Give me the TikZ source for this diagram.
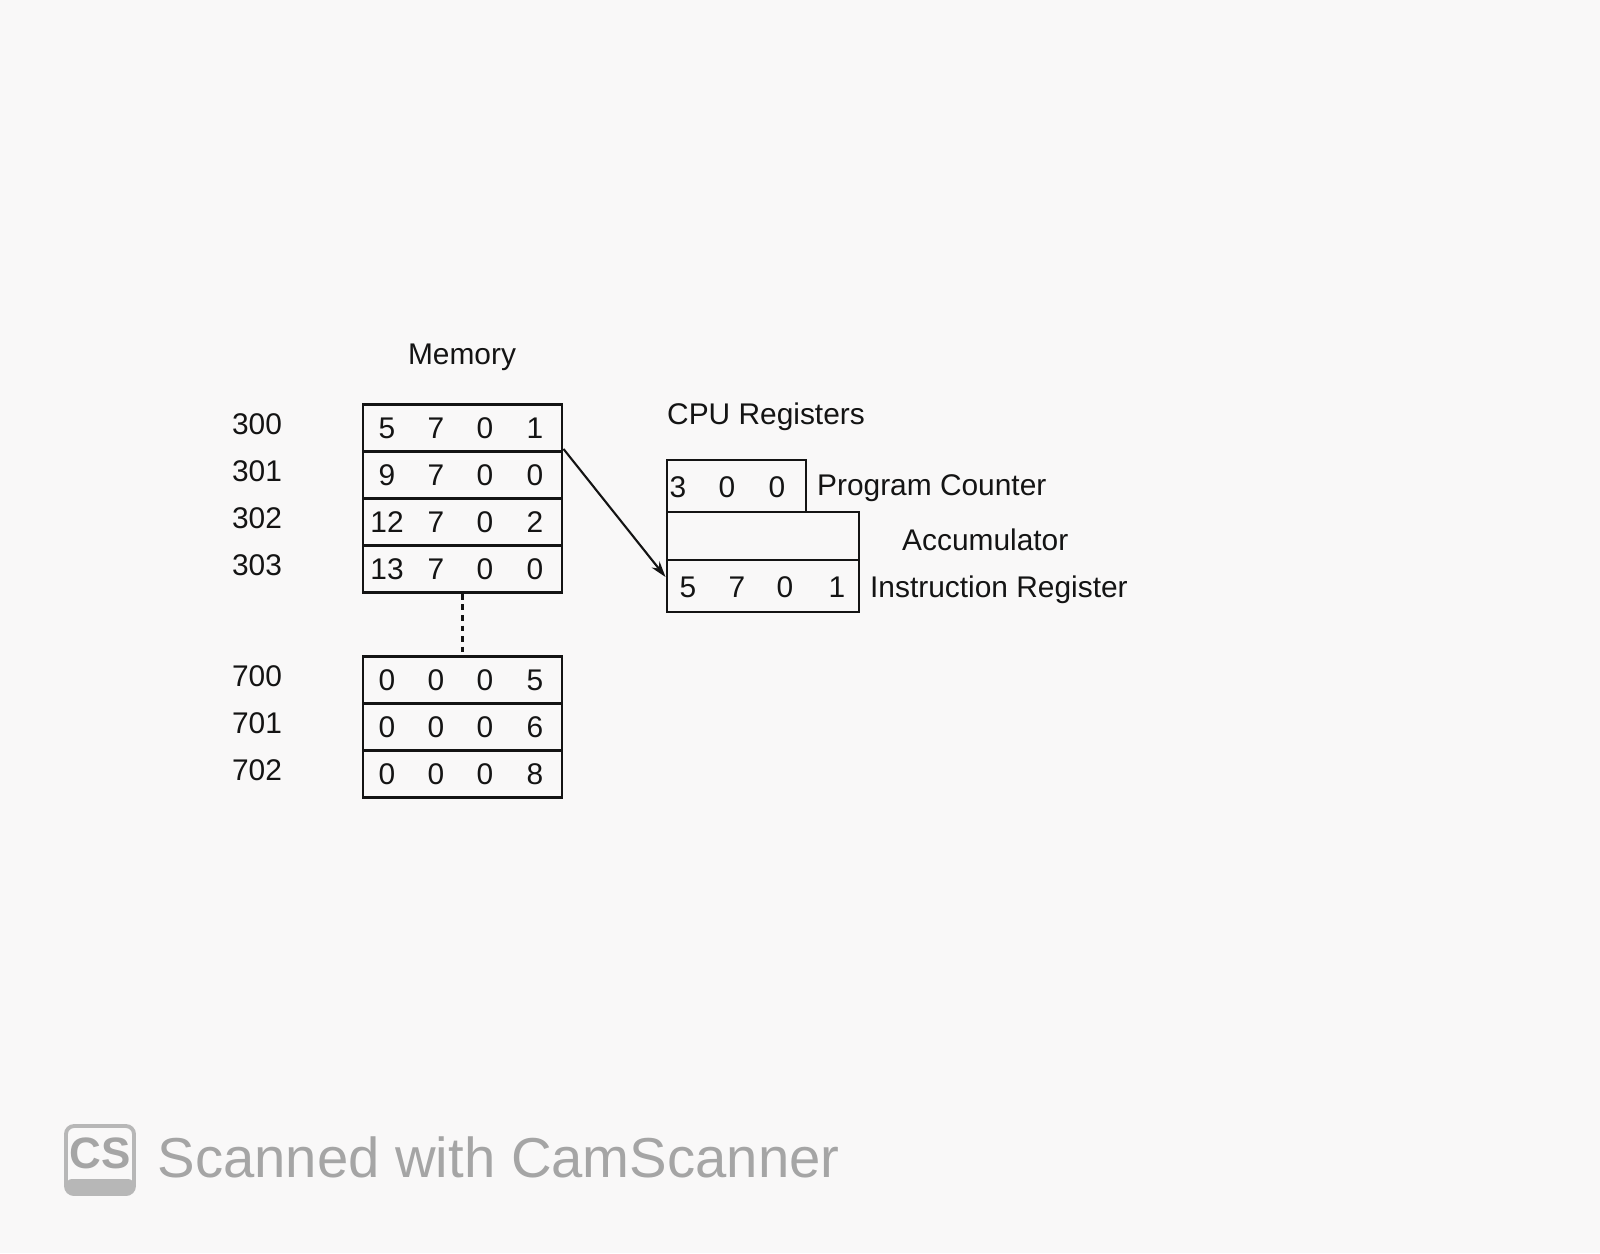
\documentclass[tikz,border=0pt]{standalone}
\usepackage{fontspec}
\setmainfont{Liberation Sans}
\usetikzlibrary{positioning,arrows.meta}
\definecolor{paper}{RGB}{249,248,248}
\definecolor{wmgray}{RGB}{165,165,165}
\definecolor{ink}{RGB}{20,20,20}

\begin{document}
\begin{tikzpicture}[x=0.01cm,y=-0.01cm,
	txt/.style={font=\fontsize{8.5}{10}\selectfont,text=ink,inner sep=0pt},
	cell/.style={draw=ink,line width=0.8pt,minimum width=1.99cm,minimum height=0.47cm,inner sep=0pt},
	reg/.style={draw=ink,line width=0.8pt,minimum height=0.52cm,inner sep=0pt}]
	\fill[paper] (0,0) rectangle (1600,1253);
	\useasboundingbox (0,0) rectangle (1600,1253);
	% memory words
	\node[txt] (memlbl) at (462,357) {Memory};
	\foreach \A/\Y/\a/\b/\c/\d in {300/428/5/7/0/1, 301/475/9/7/0/0,
	302/522/12/7/0/2, 303/569/13/7/0/0, 700/680/0/0/0/5,
	701/727/0/0/0/6, 702/774/0/0/0/8}
	{
		\node[cell] (m\A) at (462.5,\Y) {};
		\node[txt] (l\A) at (257,\Y-4) {\A};
		\foreach \X/\D [count=\k] in {387/\a, 436/\b, 485/\c, 535/\d}
		{\node[txt] (m\A d\k) at (\X,\Y) {\D};}
	}
	\draw[ink,dash pattern=on 1.6pt off 1.4pt,line width=0.7pt] (m303.south) -- (m700.north);
	% registers
	\node[txt] (cpulbl) at (766,417) {CPU Registers};
	\node[reg,minimum width=1.39cm] (pc) at (736.5,486) {};
	\node[reg,minimum width=1.92cm,minimum height=0.48cm] (acc) at (763,536) {};
	\node[reg,minimum width=1.92cm] (ir) at (763,586) {};
	\foreach \X/\D [count=\k] in {678/3, 727/0, 777/0}
	{\node[txt] (pc\k) at (\X,487) {\D};}
	\foreach \X/\D [count=\k] in {688/5, 737/7, 785/0, 837/1}
	{\node[txt] (ir\k) at (\X,587) {\D};}
	\node[txt,right=0.09cm of pc,yshift=-0.02cm] (pclbl) {Program Counter};
	\node[txt,right=0.41cm of acc,yshift=-0.04cm] (acclbl) {Accumulator};
	\node[txt,right=0.09cm of ir,yshift=-0.04cm] (irlbl) {Instruction Register};
	\draw[ink,line width=0.6pt,-{Stealth[length=0.16cm,width=0.1cm]}]
		([yshift=0.04cm]m300.south east) -- ([yshift=0.09cm]ir.west);
	% scanner mark
	\draw[wmgray!80,line width=1.1pt,rounded corners=0.08cm] (66,1126) rectangle (134,1194);
	\fill[wmgray!80,rounded corners=0.06cm] (66,1179) rectangle (134,1194);
	\node[font=\fontsize{12.5}{14}\selectfont\bfseries,text=wmgray,inner sep=0pt] (cslogo) at (100,1153) {CS};
	\node[font=\fontsize{16}{19}\selectfont,text=wmgray,anchor=base west,inner sep=0pt] (wm) at (157,1177) {Scanned with CamScanner};
\end{tikzpicture}
\end{document}
